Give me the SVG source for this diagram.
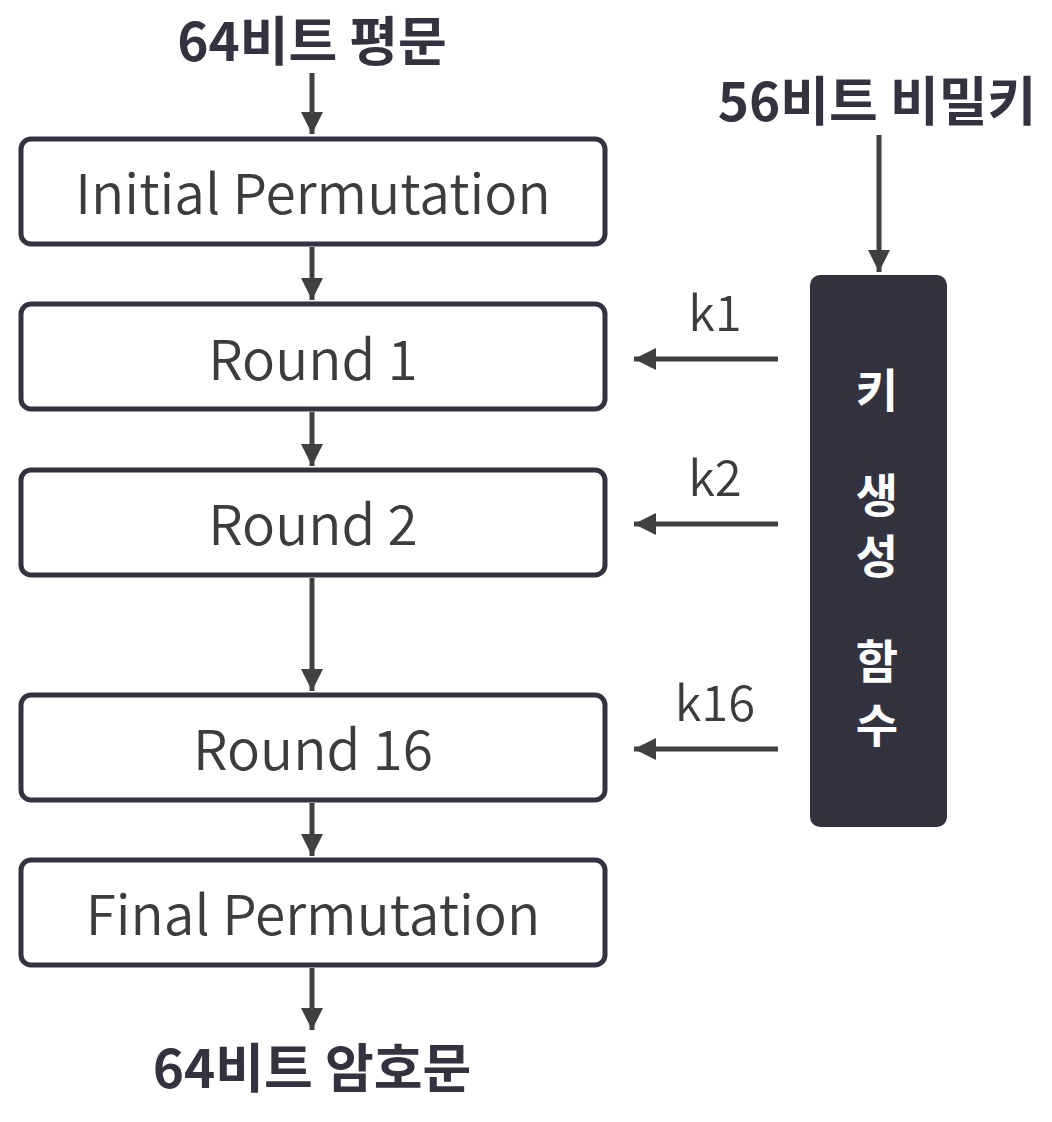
<svg xmlns="http://www.w3.org/2000/svg" width="1052" height="1122" viewBox="0 0 1052 1122">
<style>
.box{fill:#fff;stroke:#33323f;stroke-width:5}
.lbl{font-family:"Noto Sans CJK KR","Noto Sans",sans-serif;font-size:55px;font-weight:350;fill:#3c3c3c;text-anchor:middle}
.ttl{font-family:"Noto Sans CJK KR",sans-serif;font-size:53px;font-weight:bold;fill:#33323f;text-anchor:middle}
.k{font-family:"Noto Sans CJK KR","Noto Sans",sans-serif;font-size:49px;font-weight:350;fill:#3c3c3c;text-anchor:middle}
.kv{font-family:"Noto Sans CJK KR",sans-serif;font-size:46px;font-weight:bold;fill:#fff;text-anchor:middle}
.c{stroke:#404040;stroke-width:5;fill:none}
</style>
<defs>
<marker id="ah" viewBox="0 0 10 10" refX="10" refY="5" markerWidth="4.6" markerHeight="4.4" markerUnits="strokeWidth" orient="auto">
<path d="M0,0 L10,5 L0,10 z" fill="#404040"/>
</marker>
</defs>
<rect width="1052" height="1122" fill="#fff"/>
<g id="connectors">
<line class="c" x1="312" y1="73" x2="312" y2="134" marker-end="url(#ah)"/>
<line class="c" x1="312" y1="247" x2="312" y2="300" marker-end="url(#ah)"/>
<line class="c" x1="312" y1="412" x2="312" y2="466" marker-end="url(#ah)"/>
<line class="c" x1="312" y1="578" x2="312" y2="691" marker-end="url(#ah)"/>
<line class="c" x1="312" y1="803" x2="312" y2="856" marker-end="url(#ah)"/>
<line class="c" x1="312" y1="968" x2="312" y2="1030" marker-end="url(#ah)"/>
<line class="c" x1="879" y1="135" x2="879" y2="272" marker-end="url(#ah)"/>
<line class="c" x1="778" y1="359" x2="634" y2="359" marker-end="url(#ah)"/>
<line class="c" x1="778" y1="524" x2="634" y2="524" marker-end="url(#ah)"/>
<line class="c" x1="778" y1="749" x2="634" y2="749" marker-end="url(#ah)"/>
<text class="k" x="715" y="331">k1</text>
<text class="k" x="715" y="496">k2</text>
<text class="k" x="715" y="721">k16</text>
</g>
<g id="plain"><text class="ttl" x="312" y="61">64비트 평문</text></g>
<g id="key"><text class="ttl" x="877" y="121">56비트 비밀키</text></g>
<g id="ip"><rect class="box" x="21" y="139" width="584" height="105" rx="10"/><text class="lbl" x="313" y="214">Initial Permutation</text></g>
<g id="r1"><rect class="box" x="21" y="304" width="584" height="105" rx="10"/><text class="lbl" x="313" y="380">Round 1</text></g>
<g id="r2"><rect class="box" x="21" y="470" width="584" height="105" rx="10"/><text class="lbl" x="313" y="545">Round 2</text></g>
<g id="r16"><rect class="box" x="21" y="695" width="584" height="105" rx="10"/><text class="lbl" x="313" y="770">Round 16</text></g>
<g id="fp"><rect class="box" x="21" y="860" width="584" height="105" rx="10"/><text class="lbl" x="313" y="935">Final Permutation</text></g>
<g id="cipher"><text class="ttl" x="312" y="1088">64비트 암호문</text></g>
<g id="keygen">
<rect x="810" y="275" width="137" height="552" rx="10" fill="#33333f"/>
<text class="kv" x="877" y="407">키</text>
<text class="kv" x="877" y="512">생</text>
<text class="kv" x="877" y="573">성</text>
<text class="kv" x="877" y="678">함</text>
<text class="kv" x="877" y="742">수</text>
</g>
</svg>
